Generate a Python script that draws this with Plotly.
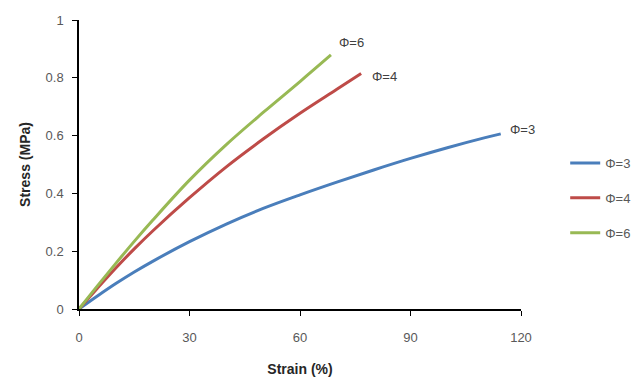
import plotly.graph_objects as go

# Data
strain_phi3 = [0, 5, 10, 15, 20, 30, 40, 50, 60, 70, 80, 90, 100, 110, 114.5]
stress_phi3 = [0, 0.045, 0.088, 0.128, 0.165, 0.233, 0.294, 0.348, 0.395, 0.439, 0.481, 0.521, 0.558, 0.592, 0.606]

strain_phi4 = [0, 5, 10, 15, 20, 30, 40, 50, 60, 70, 76.6]
stress_phi4 = [0, 0.072, 0.142, 0.208, 0.27, 0.385, 0.492, 0.588, 0.677, 0.76, 0.815]

strain_phi6 = [0, 5, 10, 15, 20, 30, 40, 50, 60, 68.4]
stress_phi6 = [0, 0.08, 0.158, 0.234, 0.307, 0.446, 0.569, 0.68, 0.787, 0.879]

names = ["Φ=3", "Φ=4", "Φ=6"]
colors = ["#4A7EBB", "#BE4B48", "#98B954"]
series = [(strain_phi3, stress_phi3), (strain_phi4, stress_phi4), (strain_phi6, stress_phi6)]
label_shift = [(7, 4), (9, -3), (6, 12)]

x_ticks = [0, 30, 60, 90, 120]
y_ticks = [0, 0.2, 0.4, 0.6, 0.8, 1]
y_ticklabels = ["0", "0.2", "0.4", "0.6", "0.8", "1"]

fig = go.Figure()
for (xs, ys), name, col in zip(series, names, colors):
    fig.add_trace(go.Scatter(x=xs, y=ys, mode="lines", name=name, legendgroup=name,
                             line=dict(color=col, width=3, shape="spline", smoothing=1.0)))

for (xs, ys), name, (dx, dy) in zip(series, names, label_shift):
    fig.add_annotation(x=xs[-1], y=ys[-1], text=name, showarrow=False,
                       xanchor="left", yanchor="middle", xshift=dx, yshift=dy,
                       font=dict(family="Liberation Sans, Arial", size=13, color="#404040"))

fig.update_layout(
    width=638, height=377,
    margin=dict(l=79, r=117, t=20, b=68, autoexpand=False),
    paper_bgcolor="white", plot_bgcolor="white",
    font=dict(family="Liberation Sans, Arial", size=13, color="#595959"),
    legend=dict(x=1.10, y=0.384, xanchor="left", yanchor="middle",
                tracegroupgap=15, font=dict(size=13, color="#595959"),
                itemwidth=30),
    showlegend=True,
)
fig.update_xaxes(range=[0, 120], tickvals=x_ticks, showline=True, linecolor="black", linewidth=1.5,
                 ticks="outside", ticklen=5, tickcolor="black", showgrid=False, zeroline=False,
                 ticklabelstandoff=11, automargin=False,
                 title=dict(text="<b>Strain (%)</b>", font=dict(size=14, color="#262626"), standoff=21))
fig.update_yaxes(range=[0, 1], tickvals=y_ticks, ticktext=y_ticklabels, showline=True, linecolor="black",
                 linewidth=1.5, ticks="outside", ticklen=5, tickcolor="black", showgrid=False, zeroline=False,
                 ticklabelstandoff=6, automargin=False,
                 title=dict(text="<b>Stress (MPa)</b>", font=dict(size=14, color="#262626"), standoff=12))

fig.write_html("out.html")
